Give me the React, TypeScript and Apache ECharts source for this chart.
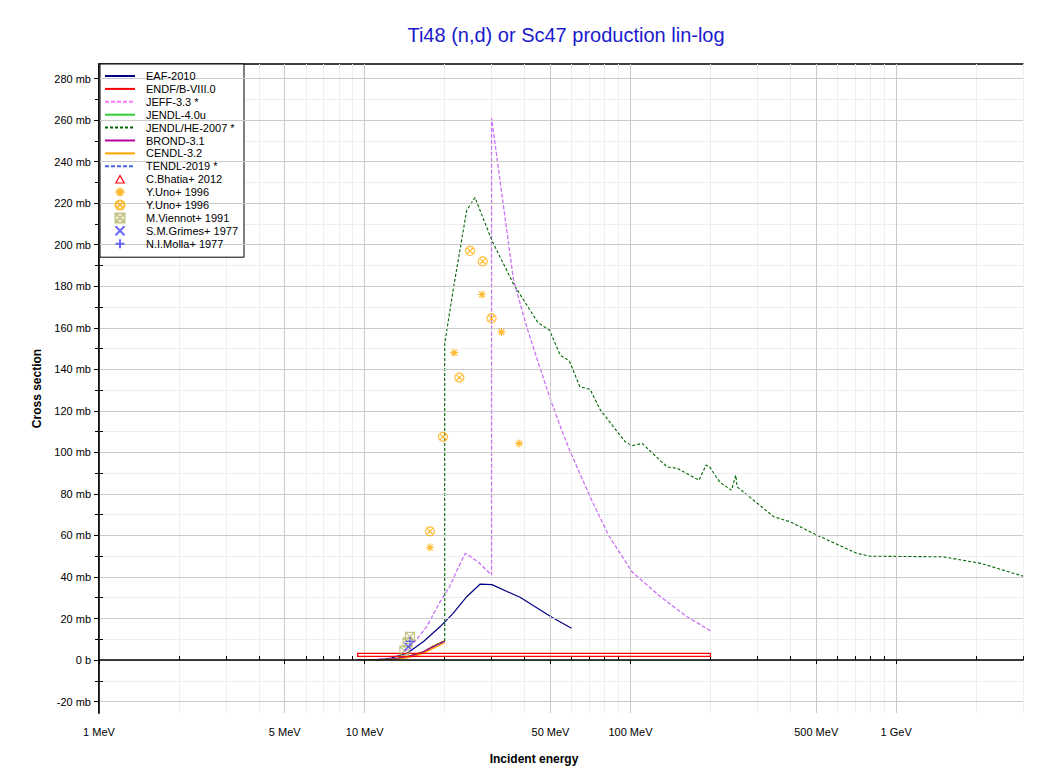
import React, { useEffect, useRef } from 'react';
import * as echarts from 'echarts';

// ---------- axis ticks ----------
const X_MIN = 1;
const X_MAX = 3000;
const X_TICK_E = [1, 5, 10, 50, 100, 500, 1000];
const X_TICK_LABELS = ['1 MeV', '5 MeV', '10 MeV', '50 MeV', '100 MeV', '500 MeV', '1 GeV'];
const X_MINOR_E = [2, 3, 4, 6, 7, 8, 9, 20, 30, 40, 60, 70, 80, 90, 200, 300, 400, 600, 700, 800, 900, 2000, 3000];
const Y_MIN = -25.5;
const Y_MAX = 287;
const Y_TICKS = [-20, 0, 20, 40, 60, 80, 100, 120, 140, 160, 180, 200, 220, 240, 260, 280];
const Y_MINOR = [-10, 10, 30, 50, 70, 90, 110, 130, 150, 170, 190, 210, 230, 250, 270];

// ---------- evaluated data (MeV, mb) ----------
const EAF_E = [9.45, 10.9, 12.45, 14.4, 16.6, 19.2, 21.5, 24.2, 27.2, 30.1, 38.4, 50.6, 60];
const EAF_V = [0, 0.1, 0.8, 3.2, 8.8, 16, 22.5, 30.5, 36.6, 36.3, 30.2, 20.6, 15.3];

const ENDF_E = [9.45, 11, 12.5, 13.5, 14.4, 15.5, 16.6, 18.1, 19, 20];
const ENDF_V = [0, 0.1, 0.4, 0.9, 1.6, 2.8, 4.0, 6.7, 7.9, 9.3];

const JENDL4_E = [9.45, 11, 12.5, 13.5, 14.4, 15.5, 16.6, 18.1, 19, 20];
const JENDL4_V = [0, 0.1, 0.4, 0.9, 1.5, 2.7, 3.9, 6.5, 7.8, 9.2];

const BROND_E = [9.45, 11, 12.5, 13.5, 14.4, 15.5, 16.6, 18.1, 19, 20];
const BROND_V = [0, 0.1, 0.3, 0.8, 1.4, 2.6, 3.8, 6.3, 7.6, 9.0];

const CENDL_E = [9.45, 11, 12.5, 13.5, 14.4, 15.5, 16.6, 18.1, 19, 20];
const CENDL_V = [0, 0.05, 0.2, 0.5, 1.0, 2.0, 3.2, 5.6, 6.9, 8.3];

const JEFF_E = [9.45, 11, 12.5, 13.5, 14.4, 15.6, 17.1, 19.2, 21, 22.2, 23.9, 26.7, 30, 30, 36.3, 40.7, 45.5, 50.6, 53.9, 59, 70.5, 82.6, 101.3, 129.6, 163.5, 200];
const JEFF_V = [0, 0.2, 1, 2.5, 4.8, 9.6, 16, 28, 36, 43, 51.4, 47.3, 40.9, 261, 183, 160.4, 141.2, 123.6, 114, 101, 78.6, 60.2, 42.5, 30.5, 20.8, 14.1];

const TENDL_E = [9.45, 11, 12.5, 13.5, 14.4, 15.6, 17.1, 19.2, 21, 22.2, 23.9, 26.7, 30, 30, 36.3, 40.7, 45.5, 50.6, 53.9, 59, 70.5, 82.6, 101.3, 129.6, 163.5, 200];
const TENDL_V = [0, 0.2, 1, 2.5, 4.8, 9.6, 16, 28, 36, 43, 51.4, 47.3, 40.9, 261, 183, 160.4, 141.2, 123.6, 114, 101, 78.6, 60.2, 42.5, 30.5, 20.8, 14.1];

const JENDLHE_E = [9.45, 11, 12.5, 14.4, 16.6, 18.1, 20, 20, 21.5, 24.2, 26, 30.1, 36.3, 40.7, 44.9, 49.6, 54.4, 58.9, 64.5, 70.5, 77.1, 95.5, 101.3, 110.6, 137.3, 150, 181, 192.6, 198.5, 217, 240, 249, 252, 346, 398.5, 502, 710, 798, 1500, 2090, 3000];
const JENDLHE_V = [0, 0.1, 0.4, 1.5, 3.9, 6.5, 9.2, 152.4, 178, 216.6, 222.7, 202, 181, 171, 162.4, 158.8, 146.8, 144, 131.6, 130.3, 120.3, 105.1, 103.2, 104.3, 93, 92.3, 86.6, 93.9, 93, 85.6, 81.8, 89, 83.4, 69, 66.6, 60.2, 51.4, 50, 49.7, 46.5, 40.4];

// ---------- experimental data ----------
const BHATIA_E_LO = [9.4];
const BHATIA_E_HI = [200];
const BHATIA_V_LO = [1.8];
const BHATIA_V_HI = [3.2];

const UNO_A_E = [17.6, 21.7, 27.6, 32.7, 38.1];
const UNO_A_V = [54.2, 148, 176, 158, 104.3];

const UNO_B_E = [17.6, 19.7, 22.7, 24.9, 27.8, 30.0];
const UNO_B_V = [62, 107.5, 136, 197, 192, 164.5];

const VIENNOT_E = [14.1, 14.5, 14.8];
const VIENNOT_V = [4.5, 8.5, 11.2];

const GRIMES_E = [14.6];
const GRIMES_V = [6.5];

const MOLLA_E = [14.8];
const MOLLA_V = [9];

const FONT = 'Liberation Sans, Arial, Helvetica, sans-serif';

const SYM_ASTERISK = 'path://M0,5L10,5M5,0L5,10M1.5,1.5L8.5,8.5M1.5,8.5L8.5,1.5';
const SYM_CIRCLEX = 'path://M0,5A5,5,0,1,1,10,5A5,5,0,1,1,0,5ZM1.5,1.5L8.5,8.5M1.5,8.5L8.5,1.5';
const SYM_BOXX = 'path://M0,0L10,0L10,10L0,10ZM0,0L10,10M0,10L10,0';
const SYM_X = 'path://M0,0L10,10M0,10L10,0';
const SYM_PLUS = 'path://M5,0L5,10M0,5L10,5';
// legend icon: open triangle centred in a 30x9 box (so it is not stretched)
const LEGEND_TRIANGLE = 'path://M0,0M30,9M10.8,8.3L15,0.7L19.2,8.3Z';

const pairs = (xs: number[], ys: number[]) => xs.map((x, i) => [x, ys[i]]);

function lineSeries(name: string, xs: number[], ys: number[], color: string, type: any, width = 1.1, opacity = 1) {
  return {
    name,
    type: 'line',
    xAxisIndex: 0,
    yAxisIndex: 0,
    data: pairs(xs, ys),
    symbol: 'none',
    showSymbol: false,
    lineStyle: { color, width, type, opacity },
    itemStyle: { color: 'rgba(0,0,0,0)', opacity: 0 },
    z: 3,
  };
}

function scatterSeries(name: string, xs: number[], ys: number[], symbol: string, color: string, size = 9) {
  return {
    name,
    type: 'scatter',
    xAxisIndex: 0,
    yAxisIndex: 0,
    data: pairs(xs, ys),
    symbol,
    symbolSize: size,
    symbolKeepAspect: true,
    itemStyle: { color: 'rgba(0,0,0,0)', borderColor: color, borderWidth: 1.2 },
    z: 5,
  };
}

const LINE_LEGEND = ['EAF-2010', 'ENDF/B-VIII.0', 'JEFF-3.3 *', 'JENDL-4.0u', 'JENDL/HE-2007 *', 'BROND-3.1', 'CENDL-3.2', 'TENDL-2019 *'];
const LINE_LEGEND_COLORS = ['#000080', '#ff0000', '#ff77ff', '#33cc33', '#006600', '#b4009e', '#ffa500', '#4466dd'];

export default function App() {
  const ref = useRef<HTMLDivElement>(null);

  useEffect(() => {
    document.body.style.margin = '0';
    if (!ref.current) return;
    const chart = echarts.init(ref.current, undefined, { renderer: 'svg' });

    const logMin = Math.log10(X_MIN);
    const logMax = Math.log10(X_MAX);
    const majorLog = X_TICK_E.map((e) => Math.log10(e));
    const minorLog = X_MINOR_E.map((e) => Math.log10(e));
    const allLog = majorLog.concat(minorLog).sort((a, b) => a - b);
    const yAll = Y_TICKS.concat(Y_MINOR).sort((a, b) => a - b);

    const xLabel = (v: number) => {
      const i = majorLog.findIndex((m) => Math.abs(m - v) < 1e-6);
      return i >= 0 ? X_TICK_LABELS[i] : '';
    };

    const option: any = {
      animation: false,
      backgroundColor: '#ffffff',
      title: {
        text: 'Ti48 (n,d) or Sc47 production lin-log',
        left: 561,
        top: 20,
        textAlign: 'center',
        textStyle: { color: '#1a1acc', fontSize: 20, fontWeight: 'normal', fontFamily: FONT },
      },
      grid: { left: 99, right: 26, top: 64, bottom: 61, outerBoundsMode: 'none', containLabel: false },
      legend: {
        orient: 'vertical',
        left: 100,
        top: 64,
        itemWidth: 30,
        itemHeight: 9,
        itemGap: 1.9,
        padding: [6.5, 6, 8, 4],
        backgroundColor: '#ffffff',
        borderColor: '#000000',
        borderWidth: 1,
        borderRadius: 0,
        selectedMode: false,
        formatter: (n: string) => n.trim(),
        textStyle: { fontSize: 11, fontFamily: FONT, color: '#000', lineHeight: 9, padding: [0, 0, 0, 6] },
        lineStyle: { width: 2, opacity: 1 },
        data: [
          ...LINE_LEGEND.map((n, i) => ({
            name: n,
            itemStyle: { color: 'rgba(0,0,0,0)', opacity: 0 },
            lineStyle: { color: LINE_LEGEND_COLORS[i], width: 2, opacity: 1 },
          })),
          {
            name: 'C.Bhatia+ 2012',
            icon: LEGEND_TRIANGLE,
            itemStyle: { color: 'rgba(0,0,0,0)', borderColor: '#ff0000', borderWidth: 1.2 },
          },
          'Y.Uno+ 1996',
          'Y.Uno+ 1996 ',
          'M.Viennot+ 1991',
          'S.M.Grimes+ 1977',
          'N.I.Molla+ 1977',
        ],
      },
      xAxis: [
        {
          type: 'log',
          logBase: 10,
          min: X_MIN,
          max: X_MAX,
          show: false,
          position: 'bottom',
          splitLine: { show: false },
        },
        {
          type: 'value',
          min: logMin,
          max: logMax,
          position: 'bottom',
          name: 'Incident energy',
          nameLocation: 'middle',
          nameGap: 40,
          nameTextStyle: { fontWeight: 'bold', fontSize: 12, fontFamily: FONT, color: '#000', padding: [0, 54, 0, 0] },
          axisLine: { show: true, lineStyle: { color: '#000', width: 1.5 } },
          axisTick: { show: true, customValues: majorLog, length: 4, inside: false, lineStyle: { color: '#000' } },
          axisLabel: { show: true, customValues: majorLog, formatter: xLabel, margin: 13, fontSize: 11, fontFamily: FONT, color: '#000' },
          splitLine: { show: true, lineStyle: { color: '#cbcbcb', width: 1 } },
          z: 4,
        },
        {
          type: 'value',
          min: logMin,
          max: logMax,
          position: 'bottom',
          axisLine: { show: false },
          axisTick: { show: true, customValues: minorLog, length: 4, inside: true, lineStyle: { color: '#000' } },
          axisLabel: { show: false },
          splitLine: { show: true, lineStyle: { color: '#eeeeee', width: 1 } },
          z: 1,
        },
        {
          type: 'value',
          min: logMin,
          max: logMax,
          position: 'top',
          axisLine: { show: true, lineStyle: { color: '#000', width: 1.5 } },
          axisTick: { show: true, customValues: allLog, length: 4, inside: true, lineStyle: { color: '#888' } },
          axisLabel: { show: false },
          splitLine: { show: false },
        },
      ],
      yAxis: [
        {
          type: 'value',
          min: Y_MIN,
          max: Y_MAX,
          position: 'left',
          name: 'Cross section',
          nameLocation: 'middle',
          nameGap: 55,
          nameTextStyle: { fontWeight: 'bold', fontSize: 12, fontFamily: FONT, color: '#000' },
          axisLine: { show: true, lineStyle: { color: '#000', width: 1.5 } },
          axisTick: { show: true, customValues: Y_TICKS, length: 5, inside: false, lineStyle: { color: '#000' } },
          axisLabel: {
            show: true,
            customValues: Y_TICKS,
            margin: 8,
            fontSize: 11,
            fontFamily: FONT,
            color: '#000',
            formatter: (v: number) => (v === 0 ? '0 b' : `${v} mb`),
          },
          splitLine: { show: true, lineStyle: { color: '#cbcbcb', width: 1 } },
          z: 4,
        },
        {
          type: 'value',
          min: Y_MIN,
          max: Y_MAX,
          position: 'left',
          axisLine: { show: false },
          axisTick: { show: true, customValues: Y_MINOR, length: 4, inside: true, lineStyle: { color: '#000' } },
          axisLabel: { show: false },
          splitLine: { show: true, lineStyle: { color: '#eeeeee', width: 1 } },
          z: 1,
        },
        {
          type: 'value',
          min: Y_MIN,
          max: Y_MAX,
          position: 'right',
          axisLine: { show: true, lineStyle: { color: '#000', width: 1.5 } },
          axisTick: { show: true, customValues: yAll, length: 4, inside: true, lineStyle: { color: '#000' } },
          axisLabel: { show: false },
          splitLine: { show: false },
        },
      ],
      series: [
        lineSeries('EAF-2010', EAF_E, EAF_V, '#000080', 'solid', 1.2),
        lineSeries('ENDF/B-VIII.0', ENDF_E, ENDF_V, '#ff0000', 'solid', 1.2),
        lineSeries('JEFF-3.3 *', JEFF_E, JEFF_V, '#ff77ff', [4, 2], 1.2),
        lineSeries('JENDL-4.0u', JENDL4_E, JENDL4_V, '#33cc33', 'solid', 1.2),
        lineSeries('JENDL/HE-2007 *', JENDLHE_E, JENDLHE_V, '#006600', [3, 2], 1.1),
        lineSeries('BROND-3.1', BROND_E, BROND_V, '#b4009e', 'solid', 1.2),
        lineSeries('CENDL-3.2', CENDL_E, CENDL_V, '#ffa500', 'solid', 1.2),
        lineSeries('TENDL-2019 *', TENDL_E, TENDL_V, '#4466dd', [4, 2], 1.2, 0.3),
        {
          name: 'C.Bhatia+ 2012',
          type: 'custom',
          xAxisIndex: 0,
          yAxisIndex: 0,
          data: BHATIA_E_LO.map((e, i) => [e, BHATIA_E_HI[i], BHATIA_V_LO[i], BHATIA_V_HI[i]]),
          encode: { x: [0, 1], y: [2, 3] },
          itemStyle: { color: 'rgba(0,0,0,0)', borderColor: '#ff0000', borderWidth: 1.2 },
          z: 4,
          renderItem: (params: any, api: any) => {
            const p0 = api.coord([api.value(0), api.value(3)]);
            const p1 = api.coord([api.value(1), api.value(2)]);
            return {
              type: 'rect',
              shape: { x: p0[0], y: p0[1], width: p1[0] - p0[0], height: p1[1] - p0[1] },
              style: { fill: 'none', stroke: '#ff0000', lineWidth: 1.2 },
            };
          },
        },
        scatterSeries('Y.Uno+ 1996', UNO_A_E, UNO_A_V, SYM_ASTERISK, '#ffaa00', 8),
        scatterSeries('Y.Uno+ 1996 ', UNO_B_E, UNO_B_V, SYM_CIRCLEX, '#ffaa00', 9),
        scatterSeries('M.Viennot+ 1991', VIENNOT_E, VIENNOT_V, SYM_BOXX, '#b5b56a', 9),
        scatterSeries('S.M.Grimes+ 1977', GRIMES_E, GRIMES_V, SYM_X, '#4444ff', 8),
        scatterSeries('N.I.Molla+ 1977', MOLLA_E, MOLLA_V, SYM_PLUS, '#4444ff', 9),
      ],
    };

    chart.setOption(option);
    return () => {
      chart.dispose();
    };
  }, []);

  return <div ref={ref} style={{ width: 1049, height: 774 }} />;
}
